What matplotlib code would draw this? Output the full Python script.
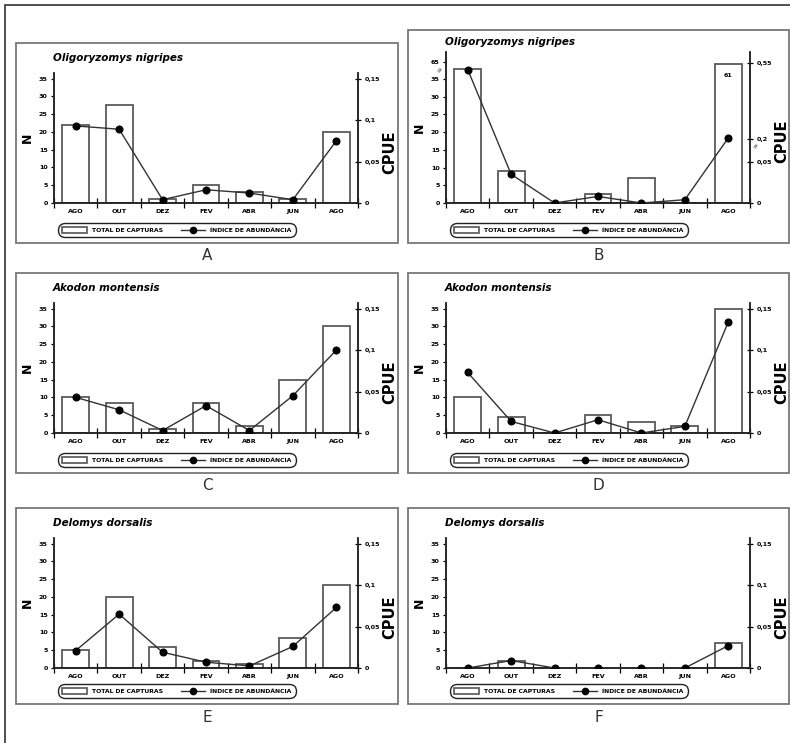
''' ------- CAPTURAS E CPUE POR ESPECIE ------- '''
import numpy as np
import matplotlib.pyplot as plt
from matplotlib.patches import Patch, Rectangle
from matplotlib.lines import Line2D

''' --- Data --- '''
meses = ['AGO', 'OUT', 'DEZ', 'FEV', 'ABR', 'JUN', 'AGO']
letras = ['A', 'B', 'C', 'D', 'E', 'F']
especies = ['Oligoryzomys nigripes', 'Oligoryzomys nigripes', 'Akodon montensis',
            'Akodon montensis', 'Delomys dorsalis', 'Delomys dorsalis']

# N (total de capturas) per panel
n_A = [22, 27.5, 1, 5, 3, 1, 20]
n_B = [52, 9, 0, 2.5, 7, 0, 61]
n_C = [10, 8.5, 1, 8.5, 2, 15, 30]
n_D = [10, 4.5, 0, 5, 3, 2, 35]
n_E = [5, 20, 6, 2, 1, 8.5, 23.5]
n_F = [0, 2, 0, 0, 0, 0, 7]

# CPUE (indice de abundancia) per panel
cpue_A = [0.093, 0.089, 0.004, 0.016, 0.012, 0.004, 0.075]
cpue_B = [0.52, 0.035, 0.0, 0.008, 0.0, 0.004, 0.205]
cpue_C = [0.043, 0.028, 0.003, 0.033, 0.003, 0.045, 0.100]
cpue_D = [0.073, 0.014, 0.0, 0.016, 0.0, 0.008, 0.134]
cpue_E = [0.021, 0.065, 0.019, 0.007, 0.0025, 0.026, 0.073]
cpue_F = [0.0, 0.009, 0.0, 0.0, 0.0, 0.0, 0.027]

n_all = [n_A, n_B, n_C, n_D, n_E, n_F]
cpue_all = [cpue_A, cpue_B, cpue_C, cpue_D, cpue_E, cpue_F]

# broken axis of panel B (value -> pixel height)
b_n_nodes = [0, 35, 65, 200]
b_n_px = [0, 124, 141, 220]
b_c_nodes = [0, 0.05, 0.2, 0.55, 2]
b_c_px = [0, 41, 64, 140, 460]

''' --- Figure --- '''
W, H = 790, 743
fig = plt.figure(figsize=(W/100, H/100), dpi=100)

def frac(x0, ytop, x1, ybot):
    return [x0/W, 1-ybot/H, (x1-x0)/W, (ybot-ytop)/H]

# outer frame (left and top lines only visible)
fig.patches.append(Rectangle((5/W, -0.05), 1.1, 1-5/H+0.05, transform=fig.transFigure,
                             fill=False, edgecolor='#333333', lw=1.2))

# boxes: x0, ytop, x1, ybot, axes top, axes bottom
boxes = [(16, 43, 398, 243, 73, 203), (408, 30, 789, 243, 52, 203),
         (16, 273, 398, 473, 303, 433), (408, 273, 789, 473, 303, 433),
         (16, 508, 398, 704, 538, 668), (408, 508, 789, 704, 538, 668)]

tick_font = dict(fontsize=4.6, fontweight='bold', family='DejaVu Sans')
x = np.arange(len(meses))

for i, (bx0, by0, bx1, by1, atop, abot) in enumerate(boxes):
    # panel box
    fig.patches.append(Rectangle((bx0/W, 1-by1/H), (bx1-bx0)/W, (by1-by0)/H,
                                 transform=fig.transFigure, fill=False,
                                 edgecolor='#777777', lw=1.3))
    ax = fig.add_axes(frac(bx0+38, atop, bx0+342, abot))
    ax2 = ax.twinx()

    ax.bar(x, n_all[i], width=0.62, facecolor='white', edgecolor='#5a5a5a', lw=1.3, zorder=2)
    ax2.plot(x, cpue_all[i], color='#333333', lw=1.0, marker='o', ms=4.8,
             mfc='black', mec='black', zorder=3)

    if i == 1:
        fn = lambda v: np.interp(v, b_n_nodes, b_n_px)
        fn_inv = lambda u: np.interp(u, b_n_px, b_n_nodes)
        fc = lambda v: np.interp(v, b_c_nodes, b_c_px)
        fc_inv = lambda u: np.interp(u, b_c_px, b_c_nodes)
        ax.set_yscale('function', functions=(fn, fn_inv))
        ax2.set_yscale('function', functions=(fc, fc_inv))
        ax.set_ylim(0, fn_inv(abot-atop))
        ax2.set_ylim(0, fc_inv(abot-atop))
        ax.set_yticks([0, 5, 10, 15, 20, 25, 30, 35, 65])
        ax.set_yticklabels(['0', '5', '10', '15', '20', '25', '30', '35', '65'], **tick_font)
        ax2.set_yticks([0, 0.05, 0.2, 0.55])
        ax2.set_yticklabels(['0', '0,05', '0,2', '0,55'], **tick_font)
        ax.annotate('61', (6, 61), xytext=(0, -8), textcoords='offset points',
                    ha='center', va='center', **tick_font)
        # break marks
        ax.text(-0.02, 0.88, '≈', transform=ax.transAxes, fontsize=5, ha='center',
                va='center', rotation=60, color='#333333')
        ax2.text(1.02, 0.38, '≈', transform=ax2.transAxes, fontsize=5, ha='center',
                 va='center', rotation=60, color='#333333')
    else:
        ax.set_ylim(0, 36.6)
        ax2.set_ylim(0, 0.15*36.6/35)
        ax.set_yticks(np.arange(0, 36, 5))
        ax.set_yticklabels([str(v) for v in range(0, 36, 5)], **tick_font)
        ax2.set_yticks([0, 0.05, 0.1, 0.15])
        ax2.set_yticklabels(['0', '0,05', '0,1', '0,15'], **tick_font)

    ax.set_xlim(-0.5, 6.5)
    ax.set_xticks(x)
    ax.set_xticklabels(meses, **tick_font)
    ax.set_xticks(np.arange(-0.5, 7, 1), minor=True)
    ax.tick_params(axis='x', which='major', length=0, pad=4)
    ax.tick_params(axis='x', which='minor', length=7, direction='inout', width=0.9)
    ax.tick_params(axis='y', length=2.5, width=0.9, pad=2)
    ax2.tick_params(axis='y', length=4, width=0.9, direction='inout', pad=3)

    for a in (ax, ax2):
        a.spines['top'].set_visible(False)
        a.patch.set_visible(False)
        for s in ('left', 'right', 'bottom'):
            a.spines[s].set_linewidth(1.1)
            a.spines[s].set_color('#222222')

    # labels
    fig.text((bx0+37)/W, 1-(atop-(15 if i != 1 else 10))/H, especies[i],
             fontsize=7.5, fontweight='bold', fontstyle='italic',
             family=['Liberation Sans Narrow', 'DejaVu Sans'], va='center')
    fig.text((bx0+11)/W, 1-((atop+abot)/2)/H, 'N', fontsize=9, fontweight='bold',
             rotation=90, ha='center', va='center')
    fig.text((bx0+374)/W, 1-((atop+abot)/2+14)/H, 'CPUE', fontsize=10.5, fontweight='bold',
             rotation=90, ha='center', va='center')
    fig.text(((bx0+bx1)/2)/W, 1-(by1+13)/H, letras[i], fontsize=11, color='#333333',
             ha='center', va='center', family=['Liberation Sans Narrow', 'DejaVu Sans'])

    # legend
    handles = [Patch(facecolor='white', edgecolor='#555555', lw=1.2),
               Line2D([], [], color='#333333', lw=1, marker='o', ms=4.5, mfc='black', mec='black')]
    leg = ax2.legend(handles, ['TOTAL DE CAPTURAS', 'ÍNDICE DE ABUNDÂNCIA'], ncol=2,
                     loc='center', bbox_to_anchor=((bx0+161)/W, 1-(by1-13)/H),
                     bbox_transform=fig.transFigure, prop=dict(size=4.4, weight='bold'),
                     handlelength=4, handleheight=1.1, columnspacing=3, borderpad=0.5,
                     handletextpad=0.8, fancybox=True, framealpha=1)
    leg.get_frame().set_edgecolor('#222222')
    leg.get_frame().set_linewidth(1.0)
    leg.get_frame().set_boxstyle('round', pad=0.2, rounding_size=1.2)

plt.savefig('out.png', dpi=100)
